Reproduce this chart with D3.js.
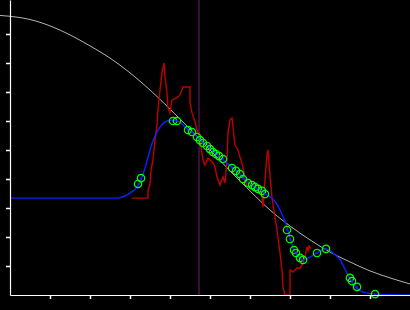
<!DOCTYPE html>
<html>
<head>
<meta charset="utf-8">
<script src="https://cdn.jsdelivr.net/npm/d3@7"></script>
<style>
  html, body { margin: 0; padding: 0; background: #000; }
  svg { display: block; }
</style>
</head>
<body>
<div id="chart"></div>
<script>
// x / y pairs (axis units: 0..10 on both axes)
const refX = [-0.25, 0, 0.5, 1.0, 1.5, 2.0, 2.5, 3.0, 3.5, 4.0, 4.5, 5.0, 5.5, 6.0, 6.5, 7.0, 7.5, 8.0, 8.5, 9.0, 9.5, 10.0];
const refY = [9.64, 9.61, 9.50, 9.28, 8.97, 8.59, 8.17, 7.66, 7.07, 6.41, 5.72, 5.0, 4.28, 3.59, 2.93, 2.38, 1.90, 1.48, 1.14, 0.83, 0.59, 0.38];

const smoothX = [0, 2.675, 2.925, 3.075, 3.2, 3.275, 3.375, 3.5, 3.625, 3.75, 3.925, 4.075, 4.25, 4.375, 4.55, 4.675,
  4.875, 5.05, 5.2, 5.325, 5.55, 5.7, 5.875, 6.075, 6.3, 6.425, 6.575, 6.75, 6.925, 7.0, 7.1, 7.2, 7.325, 7.5,
  7.675, 7.875, 8.05, 8.25, 8.425, 8.575, 8.825, 9.125, 10];
const smoothY = [3.34, 3.34, 3.45, 3.59, 3.76, 3.97, 4.38, 5.0, 5.48, 5.79, 6.0, 6.03, 5.97, 5.79, 5.62, 5.45,
  5.24, 5.0, 4.83, 4.66, 4.41, 4.24, 4.0, 3.76, 3.59, 3.45, 3.31, 2.93, 2.34, 1.97, 1.55, 1.34, 1.21, 1.31,
  1.45, 1.59, 1.48, 1.21, 0.76, 0.38, 0.10, 0.03, 0];

const rawX = [3.05, 3.45, 3.45, 3.5, 3.525, 3.575, 3.625, 3.675, 3.7, 3.75, 3.8, 3.85, 3.875, 3.925, 3.95, 4.0,
  4.05, 4.2, 4.25, 4.325, 4.5, 4.5, 4.55, 4.625, 4.675, 4.75, 4.825, 4.875, 4.95, 5.0, 5.075, 5.125, 5.175,
  5.25, 5.325, 5.375, 5.425, 5.45, 5.5, 5.55, 5.575, 5.625, 5.7, 5.75, 5.825, 5.875, 5.925, 6.0, 6.075,
  6.175, 6.25, 6.3, 6.325, 6.375, 6.425, 6.45, 6.5, 6.55, 6.625, 6.675, 6.75, 6.8, 6.825, 6.875, 7.0, 7.0,
  7.075, 7.175, 7.25, 7.325, 7.375, 7.425, 7.45, 7.475, 7.525];
const rawY = [3.34, 3.34, 3.62, 3.79, 4.31, 4.66, 5.34, 5.86, 6.38, 7.07, 7.66, 8.0, 7.52, 6.97, 6.45, 6.28,
  6.72, 6.83, 6.9, 7.17, 7.17, 6.62, 6.28, 5.97, 5.69, 5.34, 4.66, 4.48, 4.72, 4.66, 4.55, 4.41, 4.07,
  3.79, 4.07, 3.86, 4.66, 5.59, 6.03, 6.10, 5.79, 5.17, 5.0, 4.76, 4.41, 4.03, 3.72, 3.69, 3.79,
  3.69, 3.55, 3.38, 3.03, 3.97, 4.83, 5.0, 4.14, 3.34, 2.69, 2.24, 1.45, 0.86, 0.28, 0, 0, 0.86,
  0.79, 0.93, 0.93, 1.10, 1.31, 1.66, 1.55, 1.69, 1.59];

const sampleX = [3.2, 3.275, 4.075, 4.175, 4.45, 4.55, 4.675, 4.75, 4.825, 4.925, 5.0, 5.075, 5.15, 5.225, 5.325,
  5.55, 5.65, 5.75, 5.825, 5.95, 6.05, 6.125, 6.2, 6.3, 6.375, 6.925, 7.0, 7.1, 7.15, 7.25, 7.325, 7.675, 7.9,
  8.5, 8.55, 8.675, 9.125];
const sampleY = [3.83, 4.03, 6.0, 6.0, 5.69, 5.62, 5.45, 5.34, 5.24, 5.14, 5.03, 4.93, 4.86, 4.79, 4.69,
  4.38, 4.28, 4.17, 4.0, 3.86, 3.79, 3.72, 3.66, 3.59, 3.48, 2.24, 1.93, 1.55, 1.45, 1.28, 1.21, 1.45, 1.59,
  0.59, 0.48, 0.28, 0.03];

const markerX = 4.725;
const tickVals = [1, 2, 3, 4, 5, 6, 7, 8, 9];

const width = 410, height = 310;

const x = d3.scaleLinear().domain([0, 10]).range([10, 410]);
const y = d3.scaleLinear().domain([0, 295 / 29]).range([295, 0]);

const svg = d3.select("#chart").append("svg")
    .attr("width", width)
    .attr("height", height)
    .style("background", "#000");

const zip = (xs, ys) => xs.map((v, i) => [v, ys[i]]);

const line = d3.line()
    .x(d => x(d[0]))
    .y(d => y(d[1]));

// vertical marker
svg.append("line")
    .attr("x1", x(markerX)).attr("x2", x(markerX))
    .attr("y1", y.range()[1]).attr("y2", y(0))
    .attr("stroke", "#701a70")
    .attr("stroke-width", 1);

// reference curve
svg.append("path")
    .datum(zip(refX, refY))
    .attr("fill", "none")
    .attr("stroke", "#b4b4b4")
    .attr("stroke-width", 1)
    .attr("d", line.curve(d3.curveMonotoneX));

// raw (red) line
svg.append("path")
    .datum(zip(rawX, rawY))
    .attr("fill", "none")
    .attr("stroke", "#c00000")
    .attr("stroke-width", 1.4)
    .attr("stroke-linejoin", "miter")
    .attr("d", line.curve(d3.curveLinear));

// smoothed (blue) line
svg.append("path")
    .datum(zip(smoothX, smoothY))
    .attr("fill", "none")
    .attr("stroke", "#1020ff")
    .attr("stroke-width", 1.4)
    .attr("d", line.curve(d3.curveMonotoneX));

// samples
const pts = svg.append("g")
  .selectAll("g")
  .data(zip(sampleX, sampleY))
  .join("g")
    .attr("transform", d => `translate(${x(d[0])},${y(d[1])})`);

pts.append("circle")
    .attr("r", 3.7)
    .attr("fill", "none")
    .attr("stroke", "#00ff00")
    .attr("stroke-width", 1.2);

pts.append("circle")
    .attr("r", 1)
    .attr("fill", "#1020ff");

// axes
svg.append("g")
    .attr("transform", `translate(0,${y(0)})`)
    .call(d3.axisBottom(x).tickValues(tickVals).tickSize(4).tickSizeOuter(0).tickFormat(""))
    .call(g => g.selectAll("line").attr("stroke", "#fff").attr("stroke-width", 1.5))
    .call(g => g.select(".domain").attr("stroke", "#fff").attr("stroke-width", 1.2));

svg.append("g")
    .attr("transform", `translate(${x(0)},0)`)
    .call(d3.axisLeft(y).tickValues(tickVals).tickSize(4).tickSizeOuter(0).tickFormat(""))
    .call(g => g.selectAll("line").attr("stroke", "#fff").attr("stroke-width", 1.5))
    .call(g => g.select(".domain").attr("stroke", "#fff").attr("stroke-width", 1.2));
</script>
</body>
</html>
